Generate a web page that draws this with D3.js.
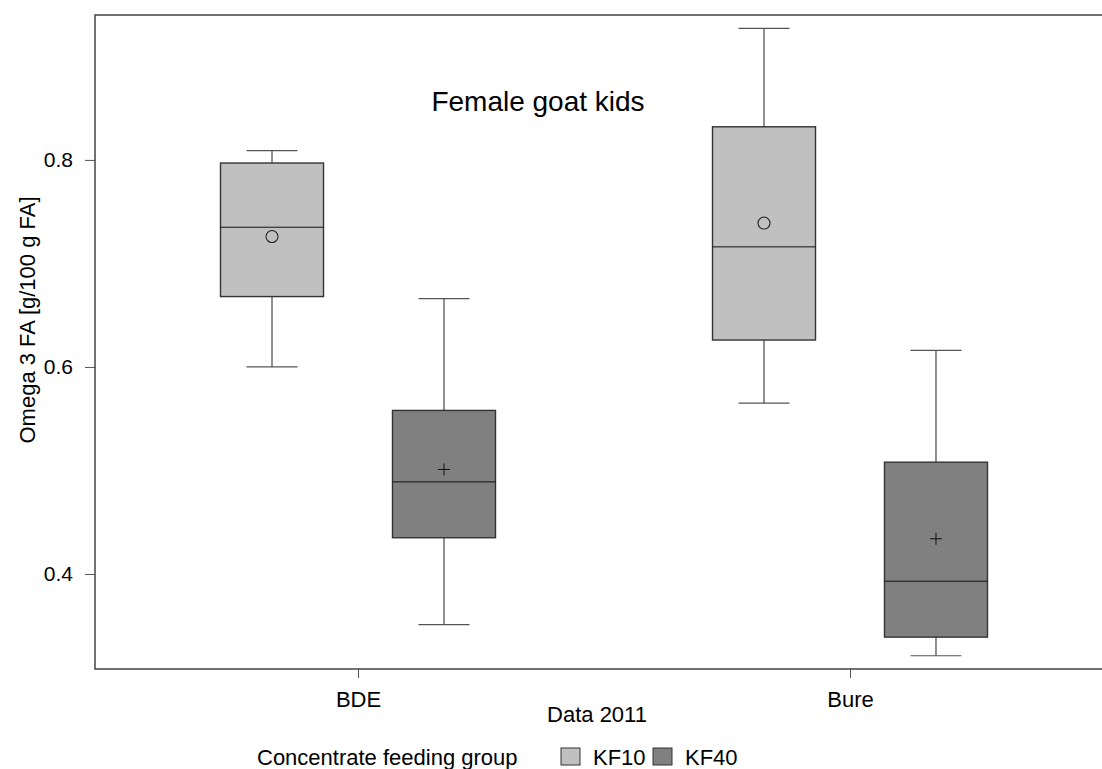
<!DOCTYPE html>
<meta charset="utf-8">
<style>
	body { margin: 0; background: #fff; }
	svg { display: block; }
	text { font-family: "Liberation Sans", Arial, sans-serif; fill: #000; }
	.tick text { font-size: 21px; }
	.lbl { font-size: 22px; }
</style>
<body></body>
<script src="https://d3js.org/d3.v7.min.js"></script>
<script>

	var sites = ["BDE", "Bure"];
	var groups = ["KF10", "KF40"];
	var colors = ["#c0c0c0", "#808080"];
	var yTicks = [0.4, 0.6, 0.8];

	// per box: [site, group, min, q1, median, q3, max, mean]
	var boxes = [
		["BDE", "KF10", 0.600, 0.668, 0.735, 0.797, 0.809, 0.726],
		["BDE", "KF40", 0.351, 0.435, 0.489, 0.558, 0.666, 0.501],
		["Bure", "KF10", 0.565, 0.626, 0.716, 0.832, 0.927, 0.739],
		["Bure", "KF40", 0.321, 0.339, 0.393, 0.508, 0.616, 0.434]
	];

	var W = 1102, H = 769;
	var m = {left: 95, top: 15, bottom: 669, right: 1102};

	var svg = d3.select("body").append("svg")
		.attr("width", W)
		.attr("height", H);

	var x = d3.scalePoint()
		.domain(sites)
		.range([112, 1096])
		.padding(0.5);

	var sub = d3.scaleBand()
		.domain(groups)
		.range([-137.5, 137.5])
		.paddingInner(0.401);

	var fill = d3.scaleOrdinal().domain(groups).range(colors);

	var y = d3.scaleLinear()
		.domain([0.3082, 0.940])
		.range([m.bottom, m.top]);

	// axes
	svg.append("g")
		.attr("transform", "translate(" + m.left + ",0)")
		.call(d3.axisLeft(y).tickValues(yTicks).tickFormat(d3.format(".1f")).tickSize(10).tickPadding(12))
		.call(function(g) { g.select(".domain").remove(); })
		.call(function(g) { g.selectAll(".tick line").attr("stroke", "#555"); });

	svg.append("g")
		.attr("transform", "translate(0," + m.bottom + ")")
		.call(d3.axisBottom(x).tickSize(9).tickPadding(13))
		.call(function(g) { g.select(".domain").remove(); })
		.call(function(g) { g.selectAll(".tick line").attr("stroke", "#555"); })
		.call(function(g) { g.selectAll(".tick text").style("font-size", "22px"); });

	// frame: left, top and bottom lines
	svg.append("path")
		.attr("d", "M" + m.right + "," + m.top + "H" + m.left + "V" + m.bottom + "H" + m.right)
		.attr("fill", "none")
		.attr("stroke", "#444")
		.attr("stroke-width", 1.5);

	var bw = sub.bandwidth();
	var capW = 51;

	var g = svg.selectAll(".box")
		.data(boxes)
		.enter().append("g")
		.attr("class", "box")
		.attr("transform", function(d) { return "translate(" + (x(d[0]) + sub(d[1]) + bw / 2) + ",0)"; });

	// whiskers
	g.append("line")
		.attr("x1", 0).attr("x2", 0)
		.attr("y1", function(d) { return y(d[6]); })
		.attr("y2", function(d) { return y(d[5]); })
		.attr("stroke", "#222").attr("stroke-width", 1);
	g.append("line")
		.attr("x1", 0).attr("x2", 0)
		.attr("y1", function(d) { return y(d[3]); })
		.attr("y2", function(d) { return y(d[2]); })
		.attr("stroke", "#222").attr("stroke-width", 1);
	g.append("line")
		.attr("x1", -capW / 2).attr("x2", capW / 2)
		.attr("y1", function(d) { return y(d[6]); })
		.attr("y2", function(d) { return y(d[6]); })
		.attr("stroke", "#555").attr("stroke-width", 1.2);
	g.append("line")
		.attr("x1", -capW / 2).attr("x2", capW / 2)
		.attr("y1", function(d) { return y(d[2]); })
		.attr("y2", function(d) { return y(d[2]); })
		.attr("stroke", "#555").attr("stroke-width", 1.2);

	// box
	g.append("rect")
		.attr("x", -bw / 2)
		.attr("width", bw)
		.attr("y", function(d) { return y(d[5]); })
		.attr("height", function(d) { return y(d[3]) - y(d[5]); })
		.attr("fill", function(d) { return fill(d[1]); })
		.attr("stroke", "#333")
		.attr("stroke-width", 1.4);

	// median
	g.append("line")
		.attr("x1", -bw / 2).attr("x2", bw / 2)
		.attr("y1", function(d) { return y(d[4]); })
		.attr("y2", function(d) { return y(d[4]); })
		.attr("stroke", "#111").attr("stroke-width", 1);

	// mean symbols: circle for KF10, plus for KF40
	g.filter(function(d) { return d[1] == "KF10"; })
		.append("circle")
		.attr("cy", function(d) { return y(d[7]); })
		.attr("r", 6)
		.attr("fill", "none")
		.attr("stroke", "#222")
		.attr("stroke-width", 1.1);
	g.filter(function(d) { return d[1] == "KF40"; })
		.append("path")
		.attr("d", function(d) { var c = y(d[7]); return "M-6," + c + "H6M0," + (c - 6) + "V" + (c + 6); })
		.attr("stroke", "#111")
		.attr("stroke-width", 1);

	// titles
	svg.append("text")
		.attr("x", 538).attr("y", 111)
		.attr("text-anchor", "middle")
		.style("font-size", "28px")
		.text("Female goat kids");

	svg.append("text")
		.attr("class", "lbl")
		.attr("transform", "translate(35,320) rotate(-90)")
		.attr("text-anchor", "middle")
		.text("Omega 3 FA [g/100 g FA]");

	svg.append("text")
		.attr("class", "lbl")
		.attr("x", 597).attr("y", 722)
		.attr("text-anchor", "middle")
		.text("Data 2011");

	// legend
	svg.append("text")
		.attr("class", "lbl")
		.attr("x", 257).attr("y", 765)
		.text("Concentrate feeding group");

	var leg = svg.selectAll(".leg")
		.data(groups)
		.enter().append("g")
		.attr("class", "leg")
		.attr("transform", function(d, i) { return "translate(" + (561 + i * 92) + ",0)"; });
	leg.append("rect")
		.attr("x", 0).attr("y", 748)
		.attr("width", 19).attr("height", 17)
		.attr("fill", function(d) { return fill(d); })
		.attr("stroke", "#333").attr("stroke-width", 1);
	leg.append("text")
		.attr("class", "lbl")
		.attr("x", 32).attr("y", 765)
		.text(function(d) { return d; });

</script>
